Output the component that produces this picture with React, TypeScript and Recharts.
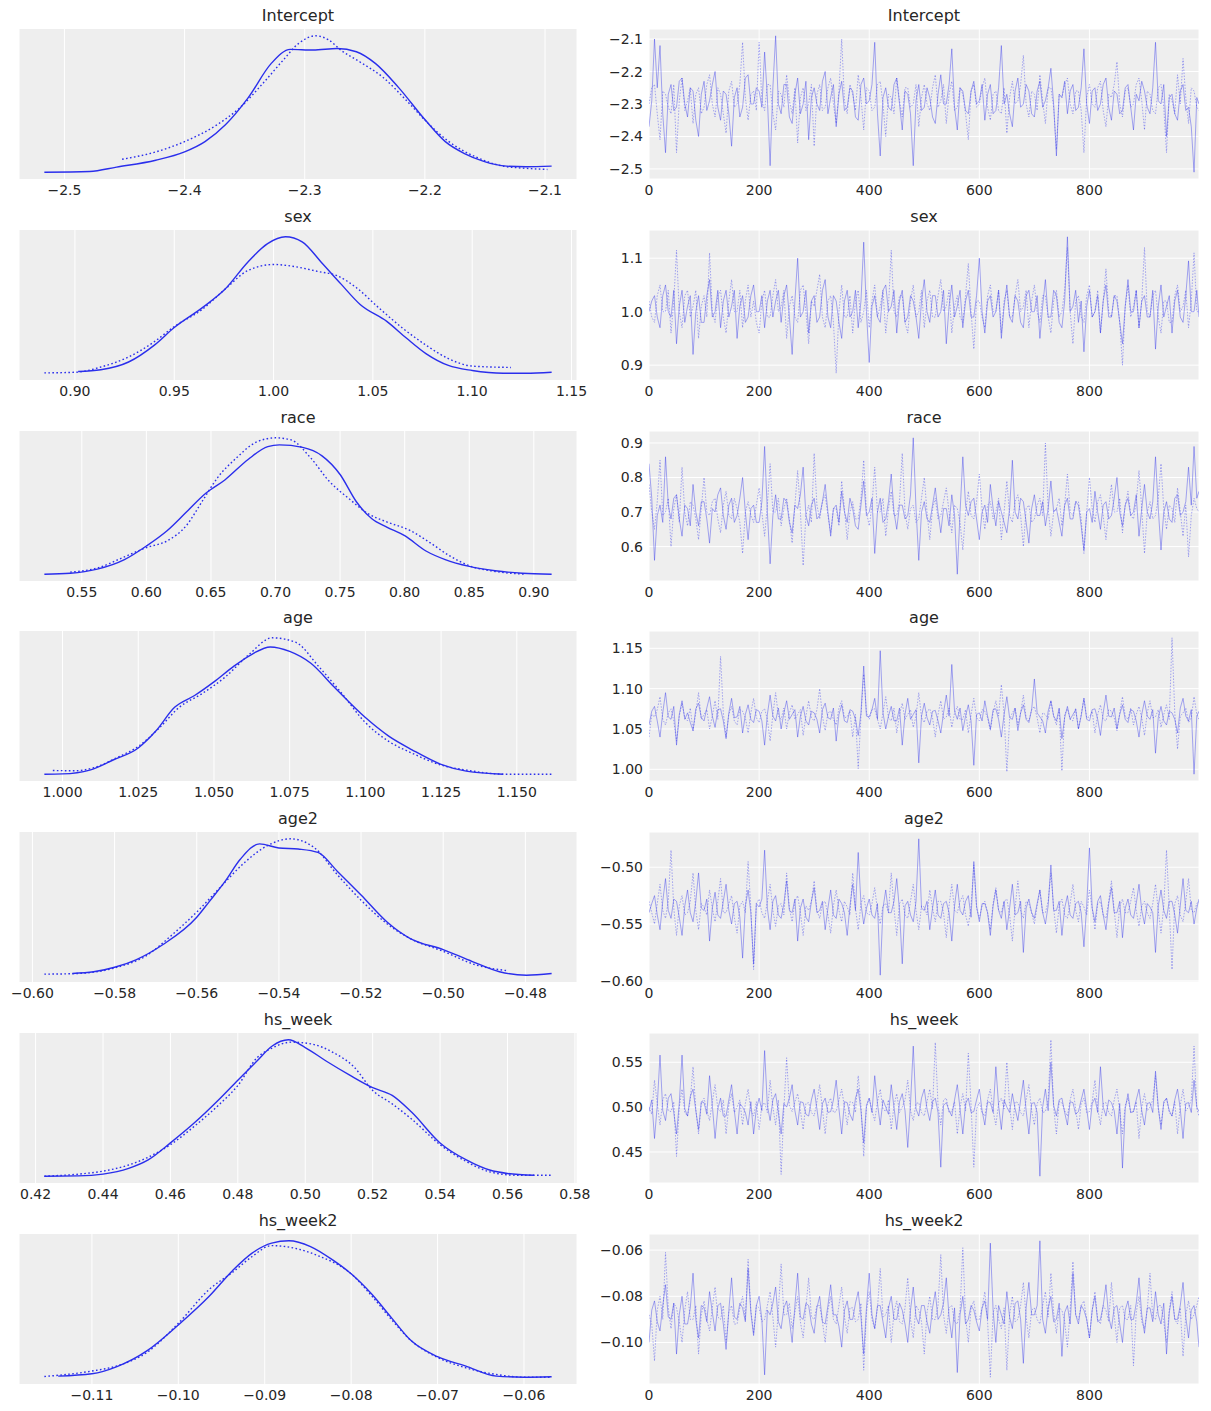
import { LineChart, Line, XAxis, YAxis, CartesianGrid } from 'recharts'

// draw index of the thinned trace samples (every 5th draw, plus the last one)
const draws = [
  0, 5, 10, 15, 20, 25, 30, 35, 40, 45, 50, 55, 60, 65, 70, 75, 80, 85, 90, 95,
  100, 105, 110, 115, 120, 125, 130, 135, 140, 145, 150, 155, 160, 165, 170, 175, 180, 185, 190, 195,
  200, 205, 210, 215, 220, 225, 230, 235, 240, 245, 250, 255, 260, 265, 270, 275, 280, 285, 290, 295,
  300, 305, 310, 315, 320, 325, 330, 335, 340, 345, 350, 355, 360, 365, 370, 375, 380, 385, 390, 395,
  400, 405, 410, 415, 420, 425, 430, 435, 440, 445, 450, 455, 460, 465, 470, 475, 480, 485, 490, 495,
  500, 505, 510, 515, 520, 525, 530, 535, 540, 545, 550, 555, 560, 565, 570, 575, 580, 585, 590, 595,
  600, 605, 610, 615, 620, 625, 630, 635, 640, 645, 650, 655, 660, 665, 670, 675, 680, 685, 690, 695,
  700, 705, 710, 715, 720, 725, 730, 735, 740, 745, 750, 755, 760, 765, 770, 775, 780, 785, 790, 795,
  800, 805, 810, 815, 820, 825, 830, 835, 840, 845, 850, 855, 860, 865, 870, 875, 880, 885, 890, 895,
  900, 905, 910, 915, 920, 925, 930, 935, 940, 945, 950, 955, 960, 965, 970, 975, 980, 985, 990, 995, 999,
]
const traceTicksX = [0, 200, 400, 600, 800]

// ---- Intercept ----
const interceptKdeX0 = [-2.5167, -2.479, -2.4566, -2.424, -2.4, -2.383, -2.366, -2.347, -2.328, -2.312, -2.293, -2.273, -2.257, -2.241, -2.222, -2.2, -2.183, -2.167, -2.151, -2.132, -2.116, -2.0945]
const interceptKdeY0 = [0.01, 0.015, 0.047, 0.097, 0.158, 0.233, 0.356, 0.554, 0.802, 0.906, 0.901, 0.913, 0.889, 0.802, 0.629, 0.394, 0.233, 0.146, 0.089, 0.054, 0.05, 0.054]
const interceptKdeX1 = [-2.452, -2.424, -2.4, -2.373, -2.354, -2.334, -2.318, -2.305, -2.291, -2.28, -2.27, -2.254, -2.235, -2.215, -2.199, -2.18, -2.157, -2.135, -2.119, -2.098]
const interceptKdeY1 = [0.104, 0.158, 0.233, 0.356, 0.48, 0.666, 0.827, 0.95, 1.005, 0.975, 0.901, 0.814, 0.703, 0.53, 0.381, 0.233, 0.119, 0.054, 0.04, 0.03]
const interceptTrace0 = [
  -2.37, -2.29, -2.10, -2.25, -2.12, -2.33, -2.45, -2.27, -2.24, -2.32, -2.31, -2.23, -2.22, -2.30, -2.34, -2.25, -2.26, -2.35, -2.40, -2.27,
  -2.23, -2.32, -2.29, -2.24, -2.20, -2.31, -2.35, -2.26, -2.27, -2.33, -2.43, -2.28, -2.25, -2.34, -2.31, -2.22, -2.21, -2.30, -2.30, -2.25,
  -2.26, -2.31, -2.14, -2.28, -2.49, -2.25, -2.09, -2.30, -2.33, -2.24, -2.24, -2.34, -2.36, -2.27, -2.22, -2.33, -2.30, -2.23, -2.41, -2.28,
  -2.25, -2.30, -2.32, -2.23, -2.20, -2.33, -2.28, -2.24, -2.37, -2.27, -2.23, -2.32, -2.31, -2.25, -2.26, -2.34, -2.35, -2.24, -2.22, -2.30,
  -2.29, -2.24, -2.11, -2.33, -2.46, -2.28, -2.25, -2.31, -2.32, -2.24, -2.22, -2.30, -2.38, -2.26, -2.27, -2.33, -2.49, -2.29, -2.24, -2.32,
  -2.31, -2.25, -2.28, -2.34, -2.36, -2.27, -2.21, -2.30, -2.30, -2.24, -2.13, -2.31, -2.38, -2.25, -2.26, -2.32, -2.33, -2.26, -2.23, -2.30,
  -2.29, -2.24, -2.35, -2.27, -2.24, -2.33, -2.32, -2.25, -2.12, -2.30, -2.27, -2.33, -2.37, -2.26, -2.22, -2.31, -2.30, -2.24, -2.26, -2.33,
  -2.34, -2.26, -2.23, -2.31, -2.29, -2.25, -2.19, -2.30, -2.46, -2.27, -2.28, -2.23, -2.33, -2.26, -2.24, -2.32, -2.31, -2.25, -2.13, -2.30,
  -2.36, -2.26, -2.25, -2.32, -2.30, -2.24, -2.22, -2.31, -2.35, -2.26, -2.27, -2.33, -2.32, -2.25, -2.24, -2.31, -2.38, -2.27, -2.29, -2.23,
  -2.26, -2.31, -2.33, -2.25, -2.11, -2.29, -2.30, -2.24, -2.40, -2.28, -2.27, -2.33, -2.35, -2.26, -2.24, -2.32, -2.31, -2.37, -2.51, -2.28, -2.30,
]
const interceptTrace1 = [
  -2.30, -2.25, -2.24, -2.33, -2.41, -2.26, -2.27, -2.31, -2.33, -2.24, -2.45, -2.29, -2.22, -2.32, -2.29, -2.25, -2.36, -2.27, -2.25, -2.33,
  -2.31, -2.24, -2.21, -2.30, -2.34, -2.25, -2.27, -2.33, -2.39, -2.26, -2.23, -2.31, -2.30, -2.24, -2.11, -2.28, -2.35, -2.27, -2.26, -2.32,
  -2.11, -2.29, -2.32, -2.24, -2.24, -2.33, -2.38, -2.26, -2.27, -2.31, -2.21, -2.29, -2.33, -2.25, -2.42, -2.28, -2.25, -2.32, -2.30, -2.24,
  -2.43, -2.27, -2.24, -2.32, -2.31, -2.25, -2.22, -2.30, -2.36, -2.26, -2.10, -2.29, -2.33, -2.24, -2.27, -2.32, -2.21, -2.28, -2.38, -2.25,
  -2.26, -2.32, -2.31, -2.24, -2.23, -2.30, -2.40, -2.27, -2.28, -2.33, -2.22, -2.29, -2.34, -2.25, -2.25, -2.31, -2.30, -2.24, -2.37, -2.28,
  -2.24, -2.30, -2.32, -2.25, -2.21, -2.31, -2.29, -2.24, -2.36, -2.27, -2.23, -2.32, -2.31, -2.25, -2.27, -2.33, -2.41, -2.26, -2.24, -2.31,
  -2.30, -2.25, -2.22, -2.31, -2.35, -2.27, -2.26, -2.32, -2.33, -2.25, -2.39, -2.28, -2.23, -2.30, -2.29, -2.24, -2.15, -2.30, -2.34, -2.26,
  -2.27, -2.32, -2.21, -2.29, -2.36, -2.25, -2.25, -2.31, -2.44, -2.27, -2.28, -2.24, -2.22, -2.30, -2.33, -2.26, -2.26, -2.32, -2.45, -2.28,
  -2.24, -2.30, -2.31, -2.25, -2.23, -2.32, -2.37, -2.27, -2.28, -2.24, -2.17, -2.30, -2.34, -2.26, -2.25, -2.31, -2.30, -2.24, -2.22, -2.29,
  -2.38, -2.26, -2.27, -2.32, -2.33, -2.25, -2.24, -2.31, -2.45, -2.27, -2.29, -2.33, -2.21, -2.30, -2.16, -2.28, -2.36, -2.25, -2.26, -2.31, -2.32,
]
const interceptKdeTicks = [-2.5, -2.4, -2.3, -2.2, -2.1]
const interceptTraceTicks = [-2.5, -2.4, -2.3, -2.2, -2.1]

// ---- sex ----
const sexKdeX0 = [0.9016, 0.913, 0.927, 0.94, 0.95, 0.964, 0.9755, 0.987, 0.997, 1.006, 1.0144, 1.024, 1.034, 1.0436, 1.057, 1.067, 1.0767, 1.088, 1.1, 1.1156, 1.127, 1.14]
const sexKdeY0 = [0.012, 0.025, 0.082, 0.206, 0.335, 0.479, 0.615, 0.814, 0.95, 1.0, 0.963, 0.814, 0.653, 0.504, 0.38, 0.256, 0.144, 0.057, 0.02, 0.0, 0.0, 0.007]
const sexKdeX1 = [0.8846, 0.9006, 0.913, 0.927, 0.94, 0.95, 0.964, 0.9755, 0.987, 1.0, 1.0105, 1.022, 1.032, 1.0416, 1.053, 1.065, 1.0767, 1.088, 1.1, 1.1195]
const sexKdeY1 = [0.002, 0.007, 0.045, 0.119, 0.231, 0.342, 0.467, 0.615, 0.752, 0.797, 0.782, 0.747, 0.715, 0.628, 0.479, 0.33, 0.206, 0.107, 0.052, 0.042]
const sexTrace0 = [
  1.00, 1.02, 1.03, 0.99, 0.97, 1.03, 1.05, 1.00, 0.99, 1.04, 0.94, 1.01, 1.04, 0.98, 1.01, 1.03, 0.92, 1.00, 1.03, 0.98,
  0.98, 1.03, 1.06, 0.99, 1.00, 1.04, 0.97, 1.02, 1.04, 0.99, 1.01, 1.04, 0.95, 1.01, 1.03, 0.98, 0.99, 1.03, 1.05, 1.00,
  1.00, 1.03, 0.97, 1.02, 1.04, 0.99, 1.02, 1.04, 0.98, 1.03, 1.05, 0.99, 0.92, 1.02, 1.10, 0.99, 1.00, 1.04, 0.96, 1.02,
  1.03, 0.98, 0.99, 1.04, 1.06, 0.99, 0.97, 1.03, 1.02, 0.98, 0.95, 1.02, 1.04, 0.99, 1.00, 1.04, 0.97, 1.02, 1.13, 1.00,
  0.905, 1.01, 1.03, 0.99, 0.98, 1.04, 1.05, 1.00, 1.01, 1.04, 0.96, 1.02, 1.04, 0.98, 0.99, 1.03, 1.02, 0.99, 0.95, 1.02,
  1.06, 1.00, 0.98, 1.03, 1.03, 0.99, 1.00, 1.04, 0.94, 1.01, 1.05, 0.99, 1.01, 1.04, 0.97, 1.02, 1.04, 0.99, 0.99, 1.03,
  1.10, 1.00, 0.96, 1.02, 1.03, 0.99, 1.00, 1.04, 0.95, 1.01, 1.05, 0.99, 0.98, 1.03, 1.02, 0.98, 0.97, 1.03, 1.04, 1.00,
  1.00, 1.03, 0.95, 1.01, 1.06, 0.99, 0.99, 1.04, 1.03, 0.98, 0.97, 1.02, 1.14, 1.00, 1.01, 1.04, 0.98, 1.02, 0.925, 1.01,
  1.04, 0.99, 1.00, 1.03, 0.96, 1.02, 1.05, 0.99, 0.99, 1.03, 1.02, 0.98, 0.94, 1.01, 1.06, 1.00, 1.00, 1.04, 0.97, 1.02,
  1.03, 0.99, 0.99, 1.04, 0.93, 1.01, 1.05, 0.99, 1.01, 1.03, 0.96, 1.02, 1.04, 0.99, 0.98, 1.03, 1.095, 1.00, 1.00, 1.04, 0.99,
]
const sexTrace1 = [
  1.02, 0.99, 0.98, 1.03, 1.05, 1.00, 1.00, 1.04, 0.96, 1.02, 1.115, 1.00, 0.97, 1.03, 1.04, 0.99, 1.01, 1.04, 0.95, 1.01,
  1.03, 0.99, 1.11, 1.00, 0.98, 1.03, 1.04, 0.99, 0.96, 1.02, 1.06, 1.00, 1.00, 1.04, 0.97, 1.02, 1.05, 0.99, 1.02, 0.98,
  0.96, 1.02, 1.04, 0.99, 0.99, 1.03, 1.06, 1.00, 1.01, 1.04, 0.95, 1.01, 1.03, 0.99, 0.98, 1.04, 1.05, 1.00, 0.94, 1.02,
  1.01, 1.04, 1.07, 0.99, 0.97, 1.02, 1.03, 0.98, 0.885, 1.00, 1.05, 0.99, 0.99, 1.03, 0.96, 1.02, 1.04, 0.98, 1.00, 1.04,
  0.97, 1.02, 1.05, 0.99, 1.01, 1.04, 0.96, 1.01, 1.115, 1.00, 0.99, 1.03, 1.03, 0.98, 0.96, 1.02, 1.05, 0.99, 1.00, 1.04,
  0.97, 1.02, 1.04, 0.99, 0.99, 1.03, 1.06, 1.00, 1.01, 1.04, 0.96, 1.01, 1.03, 0.99, 0.98, 1.03, 1.09, 1.00, 0.93, 1.02,
  1.02, 0.99, 0.97, 1.03, 1.05, 1.00, 1.00, 1.04, 0.96, 1.02, 1.04, 0.99, 0.99, 1.03, 1.06, 1.00, 1.01, 1.04, 0.97, 1.02,
  1.05, 1.00, 0.98, 1.03, 1.03, 0.99, 0.96, 1.02, 1.04, 0.99, 1.00, 1.04, 1.12, 1.00, 0.94, 1.02, 1.03, 0.99, 0.98, 1.03,
  1.05, 0.99, 1.00, 1.04, 0.96, 1.02, 1.08, 1.00, 0.99, 1.03, 1.03, 0.98, 0.90, 1.01, 1.05, 0.99, 1.01, 1.04, 0.97, 1.02,
  1.12, 1.00, 0.99, 1.03, 1.04, 0.99, 0.96, 1.02, 1.02, 0.98, 0.98, 1.03, 1.05, 1.00, 1.01, 1.04, 0.97, 1.02, 1.11, 1.00, 1.00,
]
const sexKdeTicks = [0.9, 0.95, 1.0, 1.05, 1.1, 1.15]
const sexTraceTicks = [0.9, 1.0, 1.1]

// ---- race ----
const raceKdeX0 = [0.521, 0.541, 0.562, 0.583, 0.6, 0.616, 0.631, 0.646, 0.661, 0.679, 0.694, 0.703, 0.721, 0.736, 0.75, 0.7626, 0.7746, 0.7865, 0.8, 0.8165, 0.8314, 0.85, 0.87, 0.891, 0.9138]
const raceKdeY0 = [0, 0.007, 0.037, 0.107, 0.207, 0.319, 0.456, 0.593, 0.693, 0.843, 0.935, 0.948, 0.93, 0.868, 0.731, 0.531, 0.406, 0.344, 0.282, 0.17, 0.107, 0.057, 0.025, 0.007, 0.0]
const raceKdeX1 = [0.541, 0.562, 0.583, 0.6, 0.616, 0.631, 0.643, 0.655, 0.67, 0.685, 0.7, 0.712, 0.727, 0.7416, 0.7566, 0.7716, 0.7865, 0.8045, 0.8195, 0.8344, 0.85, 0.87, 0.894]
const raceKdeY1 = [0.015, 0.045, 0.127, 0.195, 0.244, 0.357, 0.531, 0.706, 0.855, 0.968, 1.0, 0.985, 0.855, 0.681, 0.556, 0.444, 0.382, 0.319, 0.232, 0.137, 0.062, 0.02, 0.0]
const raceTrace0 = [
  0.84, 0.74, 0.56, 0.69, 0.72, 0.67, 0.86, 0.72, 0.68, 0.74, 0.75, 0.68, 0.63, 0.72, 0.71, 0.66, 0.78, 0.70, 0.66, 0.73,
  0.73, 0.68, 0.61, 0.71, 0.70, 0.75, 0.77, 0.69, 0.65, 0.72, 0.74, 0.67, 0.69, 0.74, 0.80, 0.70, 0.62, 0.71, 0.72, 0.67,
  0.67, 0.73, 0.89, 0.70, 0.55, 0.69, 0.75, 0.68, 0.68, 0.74, 0.73, 0.67, 0.64, 0.72, 0.71, 0.75, 0.83, 0.69, 0.66, 0.72,
  0.74, 0.68, 0.69, 0.73, 0.78, 0.70, 0.63, 0.71, 0.72, 0.67, 0.76, 0.70, 0.67, 0.74, 0.71, 0.66, 0.65, 0.72, 0.79, 0.69,
  0.70, 0.74, 0.58, 0.70, 0.74, 0.67, 0.68, 0.73, 0.81, 0.70, 0.65, 0.72, 0.72, 0.68, 0.69, 0.75, 0.915, 0.71, 0.56, 0.70,
  0.73, 0.68, 0.67, 0.72, 0.77, 0.70, 0.64, 0.71, 0.71, 0.66, 0.75, 0.69, 0.52, 0.70, 0.86, 0.72, 0.69, 0.73, 0.74, 0.68,
  0.62, 0.70, 0.72, 0.67, 0.78, 0.71, 0.66, 0.73, 0.70, 0.67, 0.64, 0.71, 0.85, 0.70, 0.68, 0.74, 0.73, 0.67, 0.61, 0.71,
  0.75, 0.69, 0.69, 0.73, 0.66, 0.71, 0.79, 0.70, 0.71, 0.67, 0.63, 0.72, 0.74, 0.68, 0.68, 0.73, 0.72, 0.66, 0.59, 0.70,
  0.71, 0.67, 0.76, 0.70, 0.65, 0.72, 0.73, 0.68, 0.69, 0.74, 0.80, 0.70, 0.66, 0.72, 0.74, 0.69, 0.70, 0.75, 0.63, 0.71,
  0.78, 0.70, 0.68, 0.73, 0.86, 0.71, 0.59, 0.70, 0.73, 0.68, 0.67, 0.74, 0.75, 0.69, 0.70, 0.73, 0.83, 0.72, 0.89, 0.74, 0.76,
]
const raceTrace1 = [
  0.78, 0.70, 0.65, 0.73, 0.85, 0.69, 0.70, 0.74, 0.60, 0.71, 0.75, 0.67, 0.83, 0.70, 0.66, 0.73, 0.72, 0.68, 0.62, 0.71,
  0.80, 0.70, 0.69, 0.73, 0.74, 0.68, 0.64, 0.72, 0.76, 0.69, 0.68, 0.74, 0.71, 0.67, 0.58, 0.70, 0.73, 0.69, 0.67, 0.72,
  0.77, 0.70, 0.63, 0.72, 0.84, 0.70, 0.70, 0.74, 0.66, 0.71, 0.74, 0.68, 0.61, 0.72, 0.82, 0.70, 0.545, 0.69, 0.72, 0.67,
  0.87, 0.72, 0.68, 0.73, 0.75, 0.69, 0.64, 0.71, 0.71, 0.66, 0.79, 0.71, 0.62, 0.70, 0.73, 0.68, 0.68, 0.74, 0.85, 0.70,
  0.66, 0.72, 0.83, 0.70, 0.70, 0.74, 0.63, 0.71, 0.76, 0.69, 0.69, 0.73, 0.87, 0.70, 0.65, 0.71, 0.72, 0.67, 0.68, 0.74,
  0.80, 0.70, 0.62, 0.71, 0.74, 0.68, 0.69, 0.73, 0.77, 0.70, 0.64, 0.72, 0.71, 0.67, 0.59, 0.70, 0.76, 0.69, 0.68, 0.73,
  0.81, 0.71, 0.65, 0.72, 0.73, 0.68, 0.70, 0.74, 0.62, 0.70, 0.79, 0.69, 0.67, 0.73, 0.75, 0.69, 0.60, 0.71, 0.72, 0.67,
  0.68, 0.72, 0.74, 0.69, 0.90, 0.71, 0.63, 0.70, 0.71, 0.74, 0.66, 0.72, 0.81, 0.70, 0.69, 0.73, 0.73, 0.68, 0.58, 0.70,
  0.80, 0.71, 0.67, 0.73, 0.75, 0.69, 0.62, 0.71, 0.78, 0.70, 0.70, 0.74, 0.64, 0.72, 0.76, 0.69, 0.68, 0.73, 0.82, 0.71,
  0.58, 0.70, 0.73, 0.68, 0.69, 0.74, 0.84, 0.71, 0.65, 0.72, 0.71, 0.67, 0.77, 0.70, 0.63, 0.72, 0.57, 0.69, 0.74, 0.71, 0.70,
]
const raceKdeTicks = [0.55, 0.6, 0.65, 0.7, 0.75, 0.8, 0.85, 0.9]
const raceTraceTicks = [0.6, 0.7, 0.8, 0.9]

// ---- age ----
const ageKdeX0 = [0.994, 1.0, 1.009, 1.0167, 1.025, 1.0308, 1.037, 1.0436, 1.05, 1.0564, 1.0628, 1.0686, 1.075, 1.082, 1.0897, 1.1, 1.1077, 1.1154, 1.125, 1.1333, 1.1455]
const ageKdeY0 = [0, 0.002, 0.03, 0.104, 0.192, 0.316, 0.49, 0.577, 0.677, 0.789, 0.883, 0.933, 0.9, 0.813, 0.639, 0.415, 0.279, 0.179, 0.072, 0.022, 0.0]
const ageKdeX1 = [0.9968, 1.0038, 1.0103, 1.018, 1.025, 1.032, 1.0385, 1.046, 1.0538, 1.0615, 1.0692, 1.0769, 1.0846, 1.0923, 1.1, 1.1077, 1.1154, 1.125, 1.1333, 1.1462, 1.1615]
const ageKdeY1 = [0.027, 0.025, 0.047, 0.122, 0.204, 0.34, 0.49, 0.59, 0.714, 0.876, 1.0, 0.968, 0.789, 0.59, 0.378, 0.241, 0.154, 0.067, 0.03, 0.0, 0.0]
const ageTrace0 = [
  1.055, 1.072, 1.078, 1.060, 1.040, 1.070, 1.095, 1.065, 1.062, 1.078, 1.030, 1.068, 1.085, 1.062, 1.070, 1.058, 1.048, 1.075, 1.082, 1.064,
  1.060, 1.076, 1.090, 1.066, 1.052, 1.074, 1.075, 1.060, 1.038, 1.070, 1.088, 1.064, 1.065, 1.078, 1.045, 1.068, 1.080, 1.062, 1.058, 1.074,
  1.072, 1.060, 1.030, 1.068, 1.092, 1.066, 1.060, 1.076, 1.050, 1.070, 1.085, 1.062, 1.068, 1.074, 1.040, 1.066, 1.078, 1.060, 1.055, 1.072,
  1.070, 1.062, 1.045, 1.074, 1.082, 1.064, 1.062, 1.076, 1.035, 1.068, 1.080, 1.060, 1.058, 1.074, 1.072, 1.062, 1.042, 1.070, 1.128, 1.066,
  1.065, 1.074, 1.088, 1.062, 1.147, 1.070, 1.050, 1.066, 1.078, 1.060, 1.060, 1.076, 1.030, 1.068, 1.088, 1.062, 1.068, 1.074, 1.008, 1.066,
  1.082, 1.064, 1.055, 1.072, 1.073, 1.060, 1.045, 1.070, 1.092, 1.066, 1.130, 1.072, 1.062, 1.076, 1.048, 1.066, 1.080, 1.060, 1.005, 1.068,
  1.070, 1.060, 1.085, 1.066, 1.050, 1.074, 1.075, 1.062, 1.040, 1.068, 1.090, 1.064, 1.062, 1.076, 1.048, 1.070, 1.080, 1.062, 1.058, 1.074,
  1.112, 1.070, 1.065, 1.060, 1.045, 1.072, 1.085, 1.066, 1.060, 1.076, 1.038, 1.064, 1.078, 1.062, 1.068, 1.074, 1.050, 1.066, 1.088, 1.062,
  1.060, 1.074, 1.075, 1.062, 1.042, 1.070, 1.092, 1.066, 1.065, 1.076, 1.050, 1.068, 1.080, 1.062, 1.058, 1.074, 1.072, 1.060, 1.040, 1.068,
  1.085, 1.066, 1.062, 1.074, 1.020, 1.064, 1.078, 1.060, 1.055, 1.072, 1.070, 1.062, 1.045, 1.076, 1.088, 1.066, 1.060, 1.074, 0.994, 1.066, 1.072,
]
const ageTrace1 = [
  1.040, 1.068, 1.065, 1.074, 1.090, 1.062, 1.055, 1.070, 1.075, 1.060, 1.035, 1.066, 1.082, 1.064, 1.060, 1.076, 1.048, 1.070, 1.095, 1.062,
  1.068, 1.074, 1.050, 1.066, 1.085, 1.062, 1.140, 1.070, 1.040, 1.068, 1.078, 1.060, 1.055, 1.074, 1.072, 1.064, 1.045, 1.070, 1.088, 1.064,
  1.058, 1.072, 1.075, 1.062, 1.035, 1.068, 1.095, 1.066, 1.062, 1.076, 1.050, 1.070, 1.080, 1.062, 1.068, 1.074, 1.042, 1.066, 1.085, 1.064,
  1.060, 1.074, 1.100, 1.066, 1.048, 1.070, 1.072, 1.062, 1.055, 1.076, 1.085, 1.064, 1.065, 1.072, 1.040, 1.068, 1.001, 1.066, 1.118, 1.070,
  1.062, 1.074, 1.075, 1.062, 1.050, 1.070, 1.090, 1.064, 1.060, 1.076, 1.045, 1.068, 1.082, 1.062, 1.068, 1.074, 1.052, 1.066, 1.095, 1.064,
  1.058, 1.072, 1.075, 1.064, 1.040, 1.068, 1.085, 1.062, 1.065, 1.076, 1.052, 1.070, 1.078, 1.062, 1.062, 1.074, 1.045, 1.068, 1.088, 1.064,
  1.060, 1.074, 1.072, 1.064, 1.048, 1.070, 1.085, 1.066, 1.105, 1.068, 0.997, 1.062, 1.070, 1.076, 1.055, 1.070, 1.092, 1.064, 1.060, 1.074,
  1.078, 1.064, 1.045, 1.070, 1.068, 1.062, 1.085, 1.066, 1.055, 1.074, 0.998, 1.068, 1.075, 1.062, 1.060, 1.076, 1.050, 1.068, 1.088, 1.064,
  1.065, 1.072, 1.045, 1.068, 1.080, 1.062, 1.060, 1.074, 1.072, 1.064, 1.048, 1.070, 1.090, 1.066, 1.062, 1.076, 1.055, 1.068, 1.078, 1.064,
  1.042, 1.070, 1.085, 1.064, 1.065, 1.074, 1.052, 1.068, 1.080, 1.062, 1.163, 1.070, 1.025, 1.066, 1.070, 1.076, 1.058, 1.064, 1.090, 1.068, 1.062,
]
const ageKdeTicks = [1.0, 1.025, 1.05, 1.075, 1.1, 1.125, 1.15]
const ageTraceTicks = [1.0, 1.05, 1.1, 1.15]

// ---- age2 ----
const age2KdeX0 = [-0.5903, -0.5851, -0.58, -0.5748, -0.5682, -0.56, -0.557, -0.5531, -0.5494, -0.5447, -0.54, -0.5353, -0.5305, -0.5258, -0.52, -0.5136, -0.508, -0.5, -0.4929, -0.4863, -0.4797, -0.4736]
const age2KdeY0 = [0.0125, 0.025, 0.058, 0.113, 0.225, 0.425, 0.538, 0.688, 0.85, 0.963, 0.933, 0.925, 0.9, 0.763, 0.588, 0.388, 0.268, 0.188, 0.1, 0.025, 0, 0.0125]
const age2KdeX1 = [-0.5971, -0.5889, -0.58, -0.5719, -0.5663, -0.56, -0.5541, -0.5484, -0.5428, -0.5372, -0.5315, -0.5258, -0.52, -0.5136, -0.508, -0.5, -0.492, -0.4844]
const age2KdeY1 = [0.0075, 0.0125, 0.053, 0.15, 0.288, 0.463, 0.65, 0.825, 0.95, 1.0, 0.938, 0.738, 0.55, 0.375, 0.268, 0.175, 0.075, 0.033]
const age2Trace0 = [
  -0.540, -0.532, -0.525, -0.542, -0.555, -0.530, -0.510, -0.538, -0.545, -0.528, -0.530, -0.544, -0.560, -0.534, -0.520, -0.540, -0.548, -0.530, -0.505, -0.536,
  -0.538, -0.528, -0.565, -0.536, -0.522, -0.542, -0.545, -0.530, -0.515, -0.538, -0.550, -0.532, -0.530, -0.544, -0.580, -0.534, -0.520, -0.540, -0.585, -0.532,
  -0.535, -0.528, -0.485, -0.536, -0.555, -0.530, -0.525, -0.542, -0.545, -0.532, -0.512, -0.538, -0.540, -0.528, -0.565, -0.536, -0.528, -0.544, -0.548, -0.530,
  -0.518, -0.540, -0.538, -0.530, -0.555, -0.536, -0.520, -0.542, -0.545, -0.528, -0.532, -0.540, -0.560, -0.534, -0.515, -0.538, -0.487, -0.532, -0.550, -0.536,
  -0.528, -0.542, -0.545, -0.532, -0.595, -0.536, -0.520, -0.540, -0.540, -0.530, -0.510, -0.538, -0.585, -0.534, -0.530, -0.542, -0.548, -0.530, -0.475, -0.536,
  -0.538, -0.530, -0.555, -0.536, -0.520, -0.542, -0.545, -0.532, -0.530, -0.540, -0.565, -0.534, -0.515, -0.538, -0.542, -0.530, -0.525, -0.544, -0.495, -0.534,
  -0.548, -0.532, -0.532, -0.540, -0.560, -0.534, -0.520, -0.538, -0.545, -0.530, -0.555, -0.536, -0.515, -0.542, -0.540, -0.530, -0.575, -0.536, -0.528, -0.540,
  -0.545, -0.532, -0.520, -0.540, -0.550, -0.534, -0.498, -0.538, -0.538, -0.530, -0.560, -0.536, -0.525, -0.542, -0.545, -0.532, -0.530, -0.540, -0.570, -0.534,
  -0.483, -0.536, -0.548, -0.530, -0.525, -0.542, -0.555, -0.532, -0.518, -0.540, -0.540, -0.530, -0.562, -0.536, -0.528, -0.542, -0.545, -0.532, -0.515, -0.538,
  -0.550, -0.532, -0.535, -0.540, -0.575, -0.534, -0.520, -0.538, -0.545, -0.530, -0.530, -0.542, -0.558, -0.534, -0.510, -0.538, -0.540, -0.530, -0.550, -0.536, -0.528,
]
const age2Trace1 = [
  -0.530, -0.540, -0.550, -0.532, -0.515, -0.538, -0.545, -0.530, -0.485, -0.536, -0.560, -0.534, -0.525, -0.542, -0.540, -0.530, -0.505, -0.538, -0.555, -0.532,
  -0.535, -0.542, -0.520, -0.536, -0.548, -0.530, -0.510, -0.540, -0.540, -0.532, -0.525, -0.544, -0.558, -0.534, -0.530, -0.540, -0.495, -0.536, -0.590, -0.532,
  -0.528, -0.540, -0.545, -0.530, -0.515, -0.538, -0.552, -0.534, -0.532, -0.542, -0.505, -0.536, -0.548, -0.530, -0.525, -0.540, -0.560, -0.534, -0.538, -0.530,
  -0.512, -0.538, -0.545, -0.532, -0.530, -0.542, -0.558, -0.534, -0.520, -0.538, -0.548, -0.530, -0.535, -0.542, -0.505, -0.536, -0.555, -0.532, -0.525, -0.540,
  -0.542, -0.532, -0.518, -0.538, -0.550, -0.534, -0.532, -0.540, -0.505, -0.536, -0.560, -0.532, -0.528, -0.542, -0.545, -0.530, -0.515, -0.538, -0.555, -0.534,
  -0.535, -0.542, -0.520, -0.536, -0.548, -0.530, -0.530, -0.540, -0.562, -0.534, -0.515, -0.538, -0.540, -0.530, -0.525, -0.542, -0.552, -0.534, -0.498, -0.536,
  -0.545, -0.534, -0.530, -0.540, -0.555, -0.532, -0.518, -0.538, -0.540, -0.530, -0.528, -0.542, -0.565, -0.536, -0.512, -0.538, -0.545, -0.530, -0.532, -0.540,
  -0.550, -0.534, -0.520, -0.540, -0.540, -0.530, -0.505, -0.536, -0.558, -0.534, -0.528, -0.542, -0.545, -0.532, -0.515, -0.538, -0.548, -0.530, -0.535, -0.542,
  -0.520, -0.536, -0.555, -0.532, -0.530, -0.542, -0.545, -0.530, -0.512, -0.538, -0.562, -0.534, -0.528, -0.540, -0.540, -0.530, -0.518, -0.538, -0.552, -0.534,
  -0.530, -0.540, -0.545, -0.532, -0.515, -0.538, -0.558, -0.534, -0.485, -0.536, -0.590, -0.532, -0.525, -0.542, -0.548, -0.530, -0.510, -0.538, -0.540, -0.532, -0.530,
]
const age2KdeTicks = [-0.6, -0.58, -0.56, -0.54, -0.52, -0.5, -0.48]
const age2TraceTicks = [-0.6, -0.55, -0.5]

// ---- hs_week ----
const hsWeekKdeX0 = [0.4226, 0.4327, 0.44, 0.4476, 0.4534, 0.46, 0.4672, 0.4741, 0.48, 0.4856, 0.4902, 0.495, 0.5, 0.5063, 0.5132, 0.52, 0.5258, 0.5316, 0.54, 0.5478, 0.5547, 0.56, 0.5679]
const hsWeekKdeY0 = [0, 0.002, 0.015, 0.057, 0.119, 0.244, 0.393, 0.555, 0.704, 0.843, 0.955, 1.0, 0.943, 0.843, 0.741, 0.649, 0.592, 0.468, 0.244, 0.119, 0.045, 0.02, 0.007]
const hsWeekKdeX1 = [0.4226, 0.4327, 0.44, 0.4476, 0.4534, 0.46, 0.4672, 0.4741, 0.48, 0.4856, 0.4902, 0.4959, 0.5017, 0.5086, 0.5144, 0.52, 0.5258, 0.5316, 0.54, 0.5478, 0.5547, 0.5627, 0.5731]
const hsWeekKdeY1 = [0, 0.015, 0.037, 0.082, 0.139, 0.231, 0.368, 0.517, 0.665, 0.866, 0.94, 0.983, 0.97, 0.903, 0.803, 0.629, 0.53, 0.418, 0.231, 0.107, 0.032, 0.007, 0.007]
const hsWeekTrace0 = [
  0.495, 0.508, 0.465, 0.502, 0.558, 0.496, 0.485, 0.510, 0.515, 0.494, 0.470, 0.504, 0.558, 0.498, 0.490, 0.512, 0.520, 0.496, 0.475, 0.506,
  0.505, 0.492, 0.535, 0.502, 0.465, 0.498, 0.510, 0.490, 0.490, 0.508, 0.525, 0.496, 0.470, 0.504, 0.500, 0.494, 0.480, 0.506, 0.470, 0.498,
  0.510, 0.496, 0.563, 0.502, 0.485, 0.508, 0.515, 0.494, 0.470, 0.504, 0.500, 0.510, 0.525, 0.496, 0.480, 0.506, 0.505, 0.492, 0.490, 0.508,
  0.520, 0.498, 0.475, 0.504, 0.510, 0.494, 0.495, 0.508, 0.530, 0.498, 0.470, 0.506, 0.505, 0.492, 0.485, 0.510, 0.520, 0.496, 0.460, 0.502,
  0.510, 0.494, 0.535, 0.504, 0.480, 0.508, 0.500, 0.492, 0.525, 0.500, 0.475, 0.506, 0.515, 0.496, 0.455, 0.504, 0.568, 0.498, 0.490, 0.510,
  0.520, 0.498, 0.485, 0.506, 0.510, 0.494, 0.433, 0.502, 0.505, 0.496, 0.490, 0.508, 0.525, 0.498, 0.470, 0.504, 0.510, 0.494, 0.495, 0.508,
  0.520, 0.496, 0.480, 0.506, 0.505, 0.494, 0.545, 0.502, 0.475, 0.508, 0.500, 0.494, 0.515, 0.498, 0.485, 0.508, 0.530, 0.496, 0.470, 0.504,
  0.505, 0.494, 0.423, 0.500, 0.520, 0.496, 0.550, 0.502, 0.490, 0.508, 0.510, 0.494, 0.480, 0.506, 0.505, 0.492, 0.495, 0.508, 0.520, 0.498,
  0.475, 0.504, 0.510, 0.494, 0.545, 0.500, 0.490, 0.508, 0.505, 0.496, 0.470, 0.504, 0.432, 0.498, 0.515, 0.494, 0.495, 0.508, 0.520, 0.496,
  0.480, 0.504, 0.505, 0.494, 0.540, 0.500, 0.475, 0.506, 0.510, 0.496, 0.490, 0.508, 0.520, 0.498, 0.465, 0.504, 0.505, 0.494, 0.530, 0.500, 0.495,
]
const hsWeekTrace1 = [
  0.500, 0.492, 0.530, 0.504, 0.480, 0.508, 0.515, 0.496, 0.495, 0.506, 0.445, 0.500, 0.520, 0.494, 0.490, 0.508, 0.545, 0.498, 0.470, 0.504,
  0.510, 0.496, 0.485, 0.506, 0.525, 0.498, 0.495, 0.508, 0.470, 0.502, 0.515, 0.494, 0.500, 0.508, 0.480, 0.504, 0.520, 0.496, 0.490, 0.506,
  0.475, 0.502, 0.505, 0.494, 0.530, 0.500, 0.480, 0.508, 0.425, 0.498, 0.555, 0.502, 0.495, 0.506, 0.515, 0.496, 0.475, 0.504, 0.505, 0.494,
  0.490, 0.506, 0.525, 0.498, 0.470, 0.504, 0.510, 0.494, 0.495, 0.508, 0.520, 0.500, 0.480, 0.506, 0.505, 0.494, 0.535, 0.502, 0.445, 0.500,
  0.510, 0.496, 0.485, 0.506, 0.520, 0.498, 0.495, 0.508, 0.475, 0.502, 0.515, 0.494, 0.500, 0.508, 0.530, 0.496, 0.485, 0.504, 0.505, 0.494,
  0.490, 0.506, 0.520, 0.498, 0.572, 0.502, 0.480, 0.508, 0.510, 0.494, 0.495, 0.506, 0.470, 0.500, 0.515, 0.496, 0.560, 0.502, 0.433, 0.498,
  0.505, 0.494, 0.490, 0.508, 0.520, 0.496, 0.480, 0.504, 0.510, 0.498, 0.550, 0.502, 0.475, 0.506, 0.505, 0.494, 0.490, 0.508, 0.525, 0.496,
  0.480, 0.504, 0.510, 0.494, 0.495, 0.508, 0.575, 0.500, 0.470, 0.506, 0.505, 0.496, 0.490, 0.508, 0.520, 0.498, 0.475, 0.504, 0.510, 0.494,
  0.495, 0.506, 0.530, 0.498, 0.480, 0.504, 0.505, 0.494, 0.490, 0.508, 0.520, 0.496, 0.470, 0.502, 0.510, 0.494, 0.495, 0.506, 0.465, 0.500,
  0.515, 0.496, 0.500, 0.508, 0.535, 0.498, 0.480, 0.504, 0.510, 0.494, 0.490, 0.506, 0.470, 0.502, 0.520, 0.496, 0.500, 0.508, 0.568, 0.498, 0.490,
]
const hsWeekKdeTicks = [0.42, 0.44, 0.46, 0.48, 0.5, 0.52, 0.54, 0.56, 0.58]
const hsWeekTraceTicks = [0.45, 0.5, 0.55]

// ---- hs_week2 ----
const hsWeek2KdeX0 = [-0.1139, -0.11, -0.1071, -0.1036, -0.1, -0.0964, -0.0937, -0.0915, -0.0892, -0.0872, -0.0847, -0.0821, -0.08, -0.0776, -0.0753, -0.0731, -0.07, -0.0668, -0.0632, -0.06, -0.0568]
const hsWeek2KdeY0 = [0.008, 0.025, 0.078, 0.195, 0.383, 0.595, 0.783, 0.908, 0.983, 1.0, 0.958, 0.858, 0.758, 0.608, 0.433, 0.27, 0.15, 0.083, 0.008, 0, 0.003]
const hsWeek2KdeX1 = [-0.1155, -0.11, -0.1071, -0.1036, -0.1, -0.0964, -0.0937, -0.0915, -0.0892, -0.0865, -0.0838, -0.08, -0.0776, -0.0753, -0.0731, -0.07, -0.0668, -0.0632, -0.06, -0.0568]
const hsWeek2KdeY1 = [0.005, 0.045, 0.083, 0.183, 0.395, 0.645, 0.77, 0.883, 0.965, 0.945, 0.89, 0.758, 0.595, 0.42, 0.27, 0.145, 0.07, 0.02, 0, 0]
const hsWeek2Trace0 = [
  -0.100, -0.086, -0.082, -0.091, -0.095, -0.084, -0.075, -0.089, -0.090, -0.083, -0.105, -0.088, -0.080, -0.092, -0.092, -0.085, -0.070, -0.090, -0.098, -0.084,
  -0.085, -0.091, -0.078, -0.087, -0.095, -0.084, -0.083, -0.092, -0.103, -0.086, -0.072, -0.089, -0.090, -0.083, -0.085, -0.091, -0.068, -0.087, -0.097, -0.084,
  -0.080, -0.090, -0.114, -0.086, -0.088, -0.083, -0.076, -0.091, -0.094, -0.085, -0.082, -0.090, -0.100, -0.084, -0.070, -0.089, -0.090, -0.083, -0.084, -0.092,
  -0.096, -0.085, -0.080, -0.091, -0.092, -0.084, -0.075, -0.088, -0.088, -0.093, -0.102, -0.086, -0.082, -0.090, -0.090, -0.083, -0.078, -0.089, -0.105, -0.085,
  -0.070, -0.088, -0.094, -0.084, -0.084, -0.091, -0.098, -0.085, -0.080, -0.090, -0.090, -0.083, -0.086, -0.092, -0.100, -0.086, -0.076, -0.089, -0.092, -0.084,
  -0.084, -0.091, -0.096, -0.085, -0.078, -0.090, -0.088, -0.083, -0.072, -0.089, -0.098, -0.085, -0.113, -0.088, -0.080, -0.092, -0.090, -0.084, -0.086, -0.091,
  -0.095, -0.085, -0.082, -0.090, -0.057, -0.086, -0.100, -0.084, -0.088, -0.092, -0.078, -0.089, -0.094, -0.083, -0.082, -0.090, -0.109, -0.085, -0.074, -0.088,
  -0.088, -0.084, -0.056, -0.090, -0.096, -0.085, -0.080, -0.091, -0.090, -0.083, -0.106, -0.087, -0.084, -0.092, -0.070, -0.088, -0.092, -0.084, -0.086, -0.090,
  -0.098, -0.086, -0.080, -0.091, -0.090, -0.084, -0.075, -0.089, -0.094, -0.085, -0.084, -0.092, -0.100, -0.086, -0.082, -0.090, -0.090, -0.083, -0.072, -0.088,
  -0.096, -0.085, -0.085, -0.091, -0.078, -0.088, -0.092, -0.083, -0.105, -0.087, -0.080, -0.090, -0.090, -0.084, -0.074, -0.089, -0.098, -0.086, -0.084, -0.091, -0.102,
]
const hsWeek2Trace1 = [
  -0.088, -0.092, -0.108, -0.086, -0.080, -0.090, -0.061, -0.085, -0.094, -0.083, -0.085, -0.091, -0.100, -0.086, -0.078, -0.090, -0.090, -0.084, -0.105, -0.088,
  -0.082, -0.090, -0.095, -0.085, -0.076, -0.089, -0.090, -0.084, -0.100, -0.087, -0.084, -0.092, -0.092, -0.085, -0.080, -0.090, -0.064, -0.086, -0.096, -0.084,
  -0.085, -0.091, -0.090, -0.084, -0.078, -0.089, -0.102, -0.086, -0.066, -0.088, -0.088, -0.083, -0.094, -0.087, -0.080, -0.091, -0.098, -0.085, -0.072, -0.089,
  -0.090, -0.084, -0.084, -0.091, -0.100, -0.086, -0.080, -0.090, -0.092, -0.084, -0.076, -0.089, -0.096, -0.085, -0.085, -0.091, -0.090, -0.083, -0.112, -0.087,
  -0.078, -0.090, -0.094, -0.085, -0.068, -0.089, -0.088, -0.084, -0.100, -0.087, -0.082, -0.091, -0.092, -0.085, -0.072, -0.090, -0.098, -0.084, -0.086, -0.091,
  -0.105, -0.087, -0.080, -0.090, -0.090, -0.084, -0.062, -0.088, -0.096, -0.085, -0.084, -0.091, -0.092, -0.086, -0.059, -0.089, -0.100, -0.085, -0.082, -0.090,
  -0.090, -0.085, -0.078, -0.091, -0.115, -0.087, -0.084, -0.090, -0.094, -0.085, -0.112, -0.088, -0.080, -0.091, -0.090, -0.084, -0.074, -0.089, -0.098, -0.086,
  -0.085, -0.090, -0.092, -0.084, -0.078, -0.089, -0.070, -0.087, -0.096, -0.085, -0.086, -0.091, -0.102, -0.086, -0.065, -0.088, -0.090, -0.084, -0.082, -0.090,
  -0.098, -0.086, -0.078, -0.090, -0.092, -0.084, -0.086, -0.091, -0.074, -0.088, -0.100, -0.085, -0.084, -0.090, -0.090, -0.084, -0.110, -0.087, -0.080, -0.091,
  -0.094, -0.086, -0.070, -0.089, -0.090, -0.084, -0.084, -0.091, -0.100, -0.086, -0.078, -0.090, -0.092, -0.085, -0.106, -0.088, -0.082, -0.090, -0.088, -0.084, -0.080,
]
const hsWeek2KdeTicks = [-0.11, -0.1, -0.09, -0.08, -0.07, -0.06]
const hsWeek2TraceTicks = [-0.1, -0.08, -0.06]

const BLUE = '#2a2eec'
const FONT = '"DejaVu Sans", sans-serif'
const TEXT = '#262626'

const LEFT_X = 19
const LEFT_W = 558
const SIDE = 30 // room for edge tick labels
const RIGHT_X = 649
const RIGHT_W = 550
const Y_AXIS_W = 60
const PLOT_H = 150
const AXIS_H = 26
const rowTops = [29, 230, 431, 631, 832, 1033, 1234]

const panels = [
  { name: 'Intercept', kx0: interceptKdeX0, ky0: interceptKdeY0, kx1: interceptKdeX1, ky1: interceptKdeY1, t0: interceptTrace0, t1: interceptTrace1, kt: interceptKdeTicks, kd: 1, tt: interceptTraceTicks, td: 1 },
  { name: 'sex', kx0: sexKdeX0, ky0: sexKdeY0, kx1: sexKdeX1, ky1: sexKdeY1, t0: sexTrace0, t1: sexTrace1, kt: sexKdeTicks, kd: 2, tt: sexTraceTicks, td: 1 },
  { name: 'race', kx0: raceKdeX0, ky0: raceKdeY0, kx1: raceKdeX1, ky1: raceKdeY1, t0: raceTrace0, t1: raceTrace1, kt: raceKdeTicks, kd: 2, tt: raceTraceTicks, td: 1 },
  { name: 'age', kx0: ageKdeX0, ky0: ageKdeY0, kx1: ageKdeX1, ky1: ageKdeY1, t0: ageTrace0, t1: ageTrace1, kt: ageKdeTicks, kd: 3, tt: ageTraceTicks, td: 2 },
  { name: 'age2', kx0: age2KdeX0, ky0: age2KdeY0, kx1: age2KdeX1, ky1: age2KdeY1, t0: age2Trace0, t1: age2Trace1, kt: age2KdeTicks, kd: 2, tt: age2TraceTicks, td: 2 },
  { name: 'hs_week', kx0: hsWeekKdeX0, ky0: hsWeekKdeY0, kx1: hsWeekKdeX1, ky1: hsWeekKdeY1, t0: hsWeekTrace0, t1: hsWeekTrace1, kt: hsWeekKdeTicks, kd: 2, tt: hsWeekTraceTicks, td: 2 },
  { name: 'hs_week2', kx0: hsWeek2KdeX0, ky0: hsWeek2KdeY0, kx1: hsWeek2KdeX1, ky1: hsWeek2KdeY1, t0: hsWeek2Trace0, t1: hsWeek2Trace1, kt: hsWeek2KdeTicks, kd: 2, tt: hsWeek2TraceTicks, td: 2 },
]

// matplotlib-style autoscale: data range plus 5% on each side
const pad = (vals: number[]): [number, number] => {
  const lo = Math.min(...vals)
  const hi = Math.max(...vals)
  const m = (hi - lo) * 0.05
  return [lo - m, hi + m]
}
const fmt = (d: number) => (v: number) => v.toFixed(d).replace('-', '\u2212')
const zip = (xs: number[], ys: number[]) => xs.map((x, i) => ({ x, y: ys[i] }))

const tickStyle = { fill: TEXT, fontSize: 14, fontFamily: FONT }

function Title({ text, left, width, top }: { text: string; left: number; width: number; top: number }) {
  return (
    <div
      style={{
        position: 'absolute', left, width, top: top - 23, textAlign: 'center',
        fontSize: 16, lineHeight: '19px', color: TEXT, fontFamily: FONT,
      }}
    >
      {text}
    </div>
  )
}

function KdePanel({ p, top }: { p: any; top: number }) {
  const d0 = zip(p.kx0, p.ky0)
  const d1 = zip(p.kx1, p.ky1)
  const xd = pad([...p.kx0, ...p.kx1])
  const yd = pad([...p.ky0, ...p.ky1])
  return (
    <div style={{ position: 'absolute', left: LEFT_X - SIDE, top }}>
      <LineChart width={LEFT_W + 2 * SIDE} height={PLOT_H + AXIS_H} margin={{ top: 0, right: SIDE, bottom: 0, left: SIDE }}>
        <CartesianGrid fill="#eeeeee" fillOpacity={1} stroke="#ffffff" strokeWidth={1} horizontal={false} />
        <XAxis
          type="number" dataKey="x" domain={xd} ticks={p.kt} interval={0} allowDataOverflow
          tickFormatter={fmt(p.kd)} axisLine={false} tickLine={false} tickSize={4} tickMargin={2}
          height={AXIS_H} tick={tickStyle}
        />
        <YAxis type="number" domain={yd} hide allowDataOverflow />
        <Line data={d0} dataKey="y" type="monotone" stroke={BLUE} strokeWidth={1.4} dot={false} activeDot={false} isAnimationActive={false} />
        <Line data={d1} dataKey="y" type="monotone" stroke={BLUE} strokeWidth={1.4} strokeDasharray="1.6 2.4" dot={false} activeDot={false} isAnimationActive={false} />
      </LineChart>
    </div>
  )
}

function TracePanel({ p, top }: { p: any; top: number }) {
  const d0 = zip(draws, p.t0)
  const d1 = zip(draws, p.t1)
  const yd = pad([...p.t0, ...p.t1])
  return (
    <div style={{ position: 'absolute', left: RIGHT_X - Y_AXIS_W, top }}>
      <LineChart width={Y_AXIS_W + RIGHT_W + 4} height={PLOT_H + AXIS_H} margin={{ top: 0, right: 4, bottom: 0, left: 0 }}>
        <CartesianGrid fill="#eeeeee" fillOpacity={1} stroke="#ffffff" strokeWidth={1} />
        <XAxis
          type="number" dataKey="x" domain={[0, 999]} ticks={traceTicksX} interval={0} allowDataOverflow
          tickFormatter={fmt(0)} axisLine={false} tickLine={false} tickSize={4} tickMargin={2}
          height={AXIS_H} tick={tickStyle}
        />
        <YAxis
          type="number" domain={yd} ticks={p.tt} interval={0} allowDataOverflow width={Y_AXIS_W}
          tickFormatter={fmt(p.td)} axisLine={false} tickLine={false} tickSize={4} tickMargin={2}
          tick={tickStyle}
        />
        <Line data={d0} dataKey="y" type="linear" stroke={BLUE} strokeOpacity={0.4} strokeWidth={1} dot={false} activeDot={false} isAnimationActive={false} />
        <Line data={d1} dataKey="y" type="linear" stroke={BLUE} strokeOpacity={0.4} strokeWidth={1} strokeDasharray="1.5 1.5" dot={false} activeDot={false} isAnimationActive={false} />
      </LineChart>
    </div>
  )
}

export default function App() {
  return (
    <div style={{ position: 'relative', width: 1211, height: 1411, background: '#ffffff', fontFamily: FONT }}>
      <style>{'body{margin:0}'}</style>
      {panels.map((p, i) => (
        <div key={p.name}>
          <Title text={p.name} left={LEFT_X} width={LEFT_W} top={rowTops[i]} />
          <KdePanel p={p} top={rowTops[i]} />
          <Title text={p.name} left={RIGHT_X} width={RIGHT_W} top={rowTops[i]} />
          <TracePanel p={p} top={rowTops[i]} />
        </div>
      ))}
    </div>
  )
}
